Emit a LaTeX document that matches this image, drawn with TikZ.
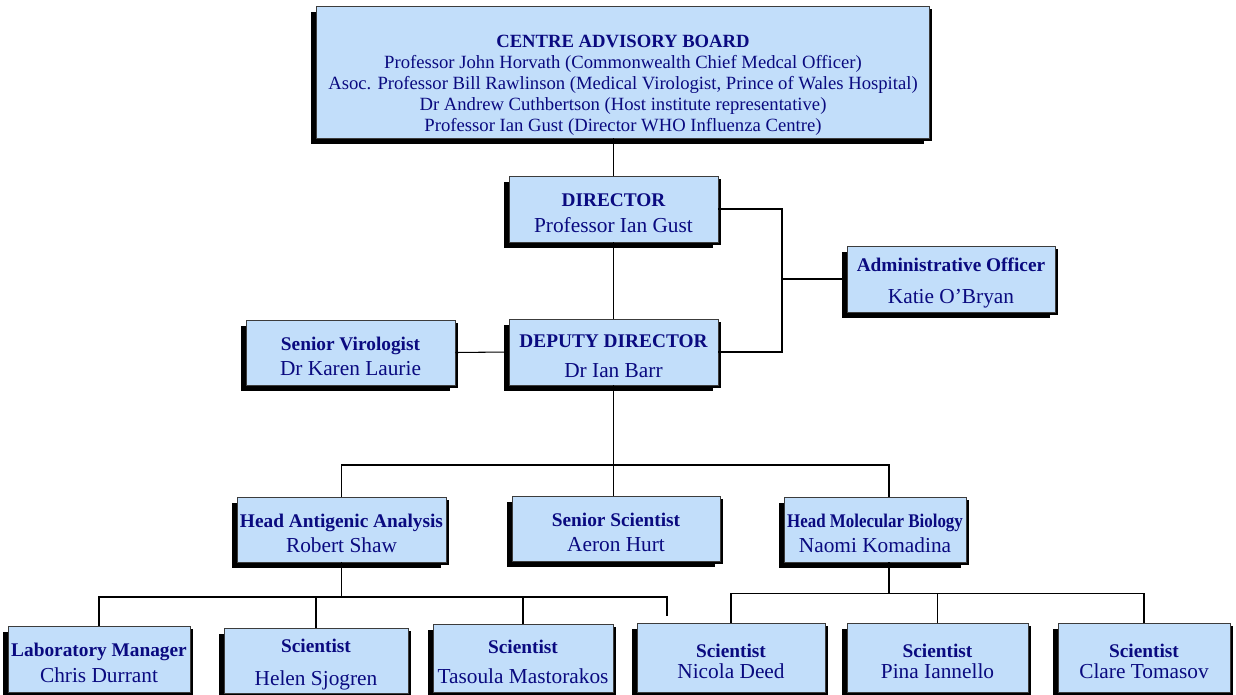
\documentclass[tikz,border=0pt]{standalone}
\usepackage{fontspec}
\setmainfont{Liberation Serif}
\usepackage{graphicx}
\usepackage{tikz}
\usetikzlibrary{shadows, calc}
\definecolor{boxblue}{RGB}{194,222,250}
\definecolor{navy}{RGB}{10,10,128}
\definecolor{edgegrey}{RGB}{60,60,60}
\newcommand{\namefont}{\fontsize{16}{19}\selectfont}
\newcommand{\rolefont}{\fontsize{14.5}{19}\selectfont\bfseries}
\newcommand{\boardfont}{\fontsize{14}{15.75}\selectfont}
\newcommand{\orgrole}[3][0pt]{\rule{0pt}{16pt}{\rolefont #2}\\[#1]#3}
\tikzset{
  orgbox/.style 2 args={rectangle, draw=edgegrey, fill=boxblue, line width=0.6pt,
    minimum width=#1*0.75pt, minimum height=#2*0.75pt, inner sep=1pt,
    align=center, text=navy, font=\namefont,
    drop shadow={shadow xshift=-3.8pt, shadow yshift=-4.4pt, fill=black, opacity=1},
    drop shadow={shadow xshift=2pt, shadow yshift=-2pt, fill=black, opacity=1}},
  link/.style={line width=0.8pt, color=black}
}

\begin{document}
\begin{tikzpicture}[x=0.75pt, y=-0.75pt]
  \useasboundingbox (0,0) rectangle (1236,695);
  \fill[white] (0,0) rectangle (1236,695);

  % Board and directors
  \node[orgbox={613}{132}, font=\boardfont] (board) at (623,72)
    {\rule{0pt}{29pt}\textbf{CENTRE ADVISORY BOARD}\\
     Professor John Horvath (Commonwealth Chief Medcal Officer)\\
     Asoc. Professor Bill Rawlinson (Medical Virologist, Prince of Wales Hospital)\\
     Dr Andrew Cuthbertson (Host institute representative)\\
     Professor Ian Gust (Director WHO Influenza Centre)};
  \node[orgbox={209}{66}] (director) at (613.5,209) {\orgrole{DIRECTOR}{Professor Ian Gust}};
  \node[orgbox={208}{66}] (admin) at (951,279) {\orgrole[5pt]{Administrative Officer}{Katie O'Bryan}};
  \node[orgbox={209}{65}] (senvir) at (350.5,352.5) {\orgrole{Senior Virologist}{Dr Karen Laurie}};
  \node[orgbox={209}{66}] (deputy) at (613.5,352) {\orgrole[4pt]{DEPUTY DIRECTOR}{Dr Ian Barr}};

  % Heads
  \node[orgbox={209}{65}] (headag) at (341.5,529.5) {\orgrole{Head Antigenic Analysis}{Robert Shaw}};
  \node[orgbox={208}{65}] (senscist) at (616,528.5) {\orgrole{Senior Scientist}{Aeron Hurt}};
  \node[orgbox={182}{65}] (headmol) at (875,529.5)
    {\orgrole{\scalebox{0.875}[1]{Head Molecular Biology}}{Naomi Komadina}};

  % Staff
  \node[orgbox={182}{66}] (labman) at (99,659) {\orgrole{Laboratory Manager}{Chris Durrant}};
  \node[orgbox={184}{65}] (helen) at (316,660.5) {\orgrole[6pt]{Scientist}{Helen Sjogren}};
  \node[orgbox={180}{68}] (tasoula) at (523,658) {\orgrole[3pt]{Scientist}{Tasoula Mastorakos}};
  \node[orgbox={188}{69}] (nicola) at (731,657.5) {\orgrole[-3pt]{Scientist}{Nicola Deed}};
  \node[orgbox={181}{69}] (pina) at (937.5,657.5) {\orgrole[-3pt]{Scientist}{Pina Iannello}};
  \node[orgbox={172}{69}] (clare) at (1144,657.5) {\orgrole[-3pt]{Scientist}{Clare Tomasov}};

  % Connectors
  \draw[link] (board.south -| director.north) -- (director.north);
  \draw[link] (director.south) -- (deputy.north);
  \coordinate (adminbus) at (782,279);
  \draw[link] (director.east) -| (adminbus) |- (deputy.east);
  \draw[link] (adminbus) -- (admin.west);
  \draw[link] (senvir.east) -- (deputy.west);

  \coordinate (mainbus) at (613.5,465);
  \draw[link] (deputy.south) -- (mainbus);
  \draw[link] (headag.north) |- (mainbus) -| ([xshift=10.5pt]headmol.north);
  \draw[link] (mainbus) -- (mainbus |- senscist.north);

  \coordinate (antbus) at (341.5,597);
  \coordinate (antend) at (667,616);
  \draw[link] (headag.south) -- (antbus);
  \draw[link] (labman.north) |- (antbus) -| (antend);
  \foreach \n in {helen, tasoula}
    \draw[link] (\n.north) -- (\n.north |- antbus);

  \coordinate (moltap) at ([xshift=10.5pt]headmol.south);
  \draw[link] (moltap) -- ++(0,31) coordinate (molbus);
  \draw[link] (nicola.north) |- (molbus) -| (clare.north);
  \draw[link] (pina.north) -- (pina.north |- molbus);
\end{tikzpicture}
\end{document}
